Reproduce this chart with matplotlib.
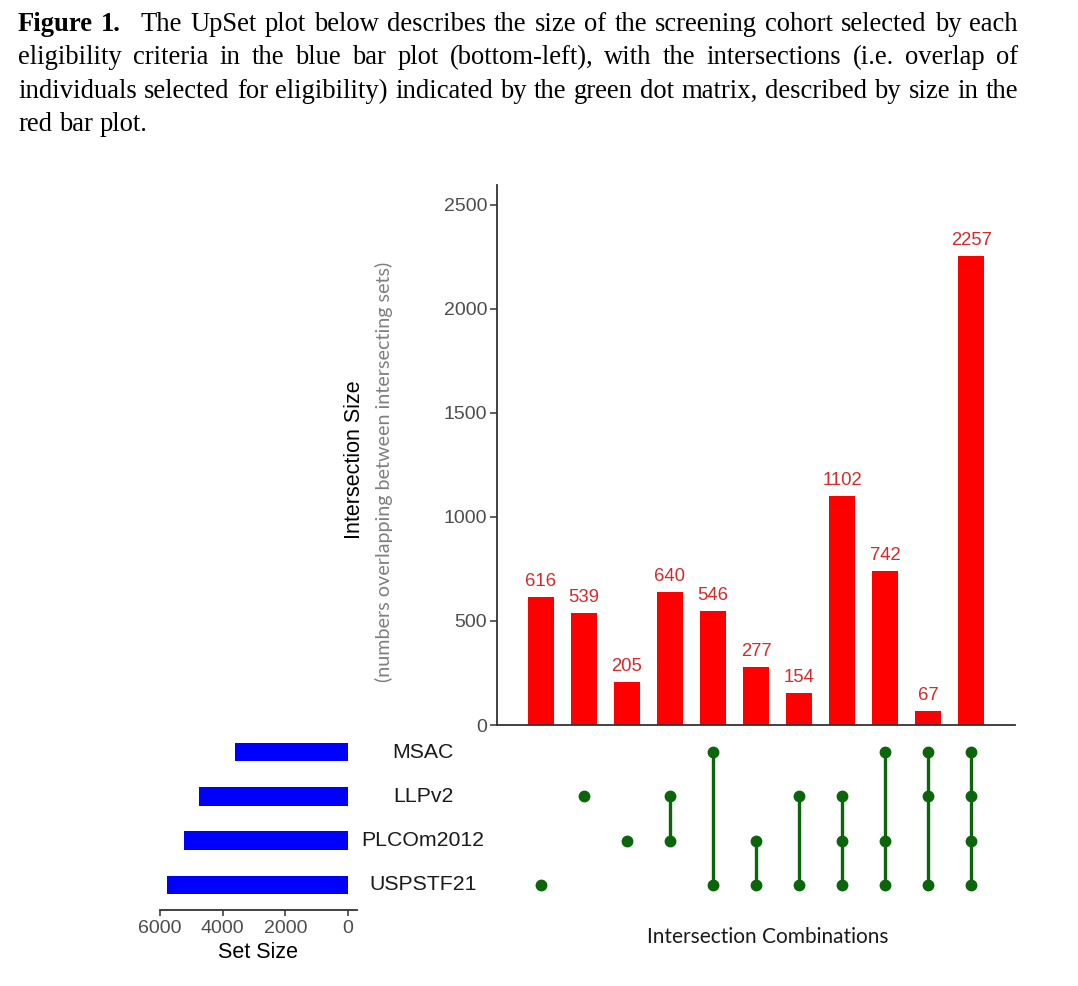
import matplotlib
matplotlib.use("Agg")
import matplotlib.pyplot as plt
import matplotlib.transforms as mtransforms

W, H = 1078, 986

# set names, bottom row first
sets = ["USPSTF21", "PLCOm2012", "LLPv2", "MSAC"]
set_sizes = [5761, 5223, 4759, 3612]

inter_sizes = [616, 539, 205, 640, 546, 277, 154, 1102, 742, 67, 2257]
combos = [
    ["USPSTF21"],
    ["LLPv2"],
    ["PLCOm2012"],
    ["LLPv2", "PLCOm2012"],
    ["MSAC", "USPSTF21"],
    ["PLCOm2012", "USPSTF21"],
    ["LLPv2", "USPSTF21"],
    ["LLPv2", "PLCOm2012", "USPSTF21"],
    ["MSAC", "PLCOm2012", "USPSTF21"],
    ["MSAC", "LLPv2", "USPSTF21"],
    ["MSAC", "LLPv2", "PLCOm2012", "USPSTF21"],
]

caption = [
    "The UpSet plot below describes the size of the screening cohort selected by each",
    "eligibility criteria in the blue bar plot (bottom-left), with the intersections (i.e. overlap of",
    "individuals selected for eligibility) indicated by the green dot matrix, described by size in the",
    "red bar plot.",
]

RED = "#ff0000"
BLUE = "#0000ff"
GREEN = "#0b650b"
GREY = "#4d4d4d"
SANS = "Liberation Sans"
SERIF = "Liberation Serif"


def box(x0, y0, x1, y1):
    # pixel box (top-left origin) -> figure fraction rect
    return [x0 / W, 1 - y1 / H, (x1 - x0) / W, (y1 - y0) / H]


fig = plt.figure(figsize=(W / 100, H / 100), dpi=100)
fig.patch.set_facecolor("white")
r = fig.canvas.get_renderer()

# ---- caption, justified like the paper ----
# pick the size so that the widest line, single spaced, just fits 1000 px
probe = fig.text(0, 0, caption[2], fontsize=16, family=SERIF)
cap_fs = 16 * 992 / probe.get_window_extent(r).width
probe.remove()


def put_line(words, y, last=False, extra_gap=None):
    texts = []
    for w, bold in words:
        t = fig.text(0, 1 - y / H, w, fontsize=cap_fs, family=SERIF,
                     weight="bold" if bold else "normal", va="baseline")
        texts.append(t)
    widths = [t.get_window_extent(r).width for t in texts]
    weights = [1.0] * (len(texts) - 1)
    if extra_gap is not None:
        weights[extra_gap] = 2.4
    if last:
        gap = cap_fs * 100 / 72 * 0.25
    else:
        gap = (1018 - 18 - sum(widths)) / sum(weights)
    x = 18
    for i, (t, w) in enumerate(zip(texts, widths)):
        t.set_x(x / W)
        if i < len(weights):
            x += w + gap * weights[i]


line1 = [("Figure", True), ("1.", True)] + [(w, False) for w in caption[0].split()]
put_line(line1, 31, extra_gap=1)
put_line([(w, False) for w in caption[1].split()], 64)
put_line([(w, False) for w in caption[2].split()], 98)
put_line([(w, False) for w in caption[3].split()], 131, last=True)

# ---- intersection bars ----
ax_top = fig.add_axes(box(497, 185, 1015, 725))
xs = list(range(len(inter_sizes)))
ax_top.bar(xs, inter_sizes, width=0.6, color=RED)
for x, v in zip(xs, inter_sizes):
    ax_top.annotate(str(v), (x, v), xytext=(0, 5), textcoords="offset points",
                    ha="center", va="bottom", fontsize=13.3, color="#d42a2a", family=SANS)
ax_top.set_xlim(-1.02, 11.02)
ax_top.set_ylim(0, 2596)
ax_top.set_yticks([0, 500, 1000, 1500, 2000, 2500])
ax_top.set_xticks([])
for s in ["top", "right"]:
    ax_top.spines[s].set_visible(False)
for s in ["left", "bottom"]:
    ax_top.spines[s].set_color("#333333")
    ax_top.spines[s].set_linewidth(1.3)
ax_top.tick_params(axis="y", length=5, width=1.1, color="#333333", labelcolor=GREY,
                   labelsize=14, pad=2)
for lab in ax_top.get_yticklabels():
    lab.set_family(SANS)

fig.text(354 / W, 1 - 460 / H, "Intersection Size", rotation=90, ha="center", va="center",
         fontsize=15.5, family=SANS, color="black")
fig.text(384 / W, 1 - 472 / H, "(numbers overlapping between intersecting sets)", rotation=90,
         ha="center", va="center", fontsize=14.2, family="Lato", color="#7f7f7f")

# ---- dot matrix ----
ax_m = fig.add_axes(box(497, 730, 1015, 907))
ax_m.set_xlim(-1.02, 11.02)
ax_m.set_ylim(-0.5, 3.5)
ax_m.axis("off")
for x, combo in zip(xs, combos):
    ys = [sets.index(s) for s in combo]
    if len(ys) > 1:
        ax_m.plot([x, x], [min(ys), max(ys)], color=GREEN, lw=2.4, solid_capstyle="butt")
    ax_m.plot([x] * len(ys), ys, "o", color=GREEN, ms=7.5, mec=GREEN)

# set names between the panels
trans = mtransforms.blended_transform_factory(fig.transFigure, ax_m.transData)
for i, name in enumerate(sets):
    fig.text(423 / W, i, name, transform=trans, ha="center", va="center",
             fontsize=15.3, family=SANS, color="#1a1a1a")

# ---- set size bars ----
ax_s = fig.add_axes(box(160, 730, 357, 910))
ax_s.barh(range(len(sets)), set_sizes, height=0.42, color=BLUE)
ax_s.set_ylim(-0.564, 3.5)
ax_s.set_xlim(6000, -287)
ax_s.set_xticks([6000, 4000, 2000, 0])
ax_s.set_yticks([])
for s in ["top", "right", "left"]:
    ax_s.spines[s].set_visible(False)
ax_s.spines["bottom"].set_color("#333333")
ax_s.spines["bottom"].set_linewidth(1.3)
ax_s.tick_params(axis="x", length=4, width=1.1, color="#333333", labelcolor=GREY,
                 labelsize=14, pad=3)
for lab in ax_s.get_xticklabels():
    lab.set_family(SANS)
fig.text(258 / W, 1 - 952 / H, "Set Size", ha="center", va="center", fontsize=15.5,
         family=SANS, color="black")

fig.text(768 / W, 1 - 937 / H, "Intersection Combinations", ha="center", va="center",
         fontsize=15, family="Lato", color="#1a1a1a")

fig.savefig("out.png", dpi=100, facecolor="white")
